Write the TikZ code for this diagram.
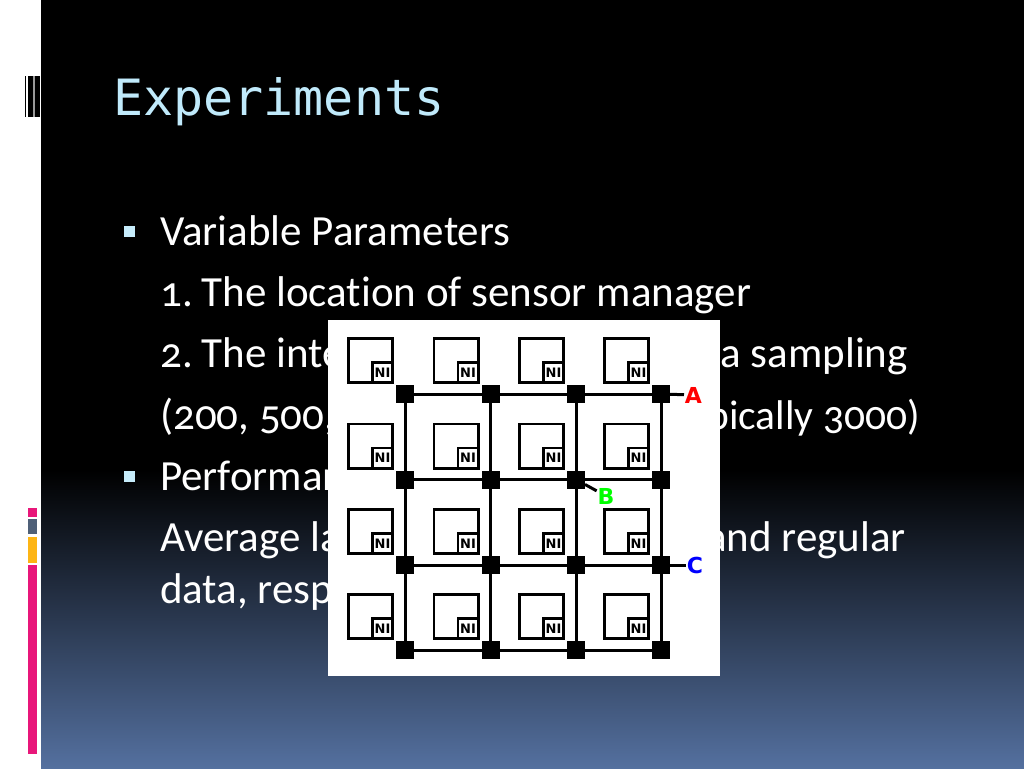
\documentclass[tikz,border=0pt]{standalone}
\usepackage{fontspec}
\setmainfont[Numbers=OldStyle,Ligatures=NoCommon]{Carlito}
\setsansfont{DejaVu Sans}
\newfontfamily\titlefont{DejaVu Sans Mono}
\definecolor{titleblue}{HTML}{C0EAFB}
\definecolor{slidebottom}{HTML}{54709F}
\definecolor{barpink}{HTML}{E8177A}
\definecolor{barslate}{HTML}{4F6078}
\definecolor{baramber}{HTML}{FDB515}
\tikzset{
  bodytext/.style={anchor=base west,text=white,inner sep=0pt,font=\fontsize{43}{50}\selectfont},
  bodyright/.style={bodytext,anchor=base east},
  bullet/.style={fill=titleblue!90!white,draw=none,minimum size=11pt,inner sep=0pt,outer sep=0pt},
  core/.style={draw=black,line width=2.8pt,fill=white,minimum size=44.2pt,inner sep=0pt,outer sep=0pt},
  netif/.style={core,minimum size=20.2pt,anchor=south east,font=\sffamily\bfseries\fontsize{13}{13}\selectfont},
  router/.style={fill=black,minimum size=18pt,inner sep=0pt,outer sep=0pt},
  link/.style={draw=black,line width=3pt},
  tag/.style={font=\sffamily\bfseries\fontsize{22}{22}\selectfont,inner sep=0pt,outer sep=1pt},
}
\begin{document}
\begin{tikzpicture}[x=1pt,y=-1pt]
\useasboundingbox (0,0) rectangle (1024,768);
% slide background
\fill[white] (0,0) rectangle (41,768);
\fill[black] (41,0) rectangle (1024,470);
\shade[top color=black,bottom color=slidebottom] (41,470) rectangle (1024,768);
% side marks
\fill[black] (25,76) rectangle (26,117);
\fill[black] (28,76) rectangle (29.5,117);
\fill[black] (30,76) rectangle (33.3,117);
\fill[black!40] (33.3,76) rectangle (35,117);
\fill[black] (35,76) rectangle (40,117);
\fill[barpink] (28,508) rectangle (37,517);
\fill[barslate] (28,519) rectangle (37,534);
\fill[baramber] (28,537) rectangle (37,563);
\fill[barpink] (28,565) rectangle (37,754);
% text
\node[anchor=base west,inner sep=0pt,text=titleblue,font=\titlefont\fontsize{50}{50}\selectfont] (title) at (113,115) {Experiments};
\node[bullet] (bulleta) at (129.5,231) {};
\node[bullet] (bulletb) at (129.5,476) {};
\node[bodytext] (vars) at (160,245) {Variable Parameters};
\node[bodytext] (one) at (160,306) {1.\hspace{-4pt} The location of sensor manager};
\node[bodytext] (two) at (160,367) {2.\hspace{-4pt} The inte};
\node[bodyright] (twor) at (908,367) {a sampling};
\node[bodytext] (three) at (160,429) {(200, 500,};
\node[bodyright,font=\fontsize{41.5}{50}\selectfont] (threer) at (920,429) {pically 3000)};
\node[bodytext] (perf) at (160,490) {Performan};
\node[bodytext] (avg) at (160,551) {Average la};
\node[bodyright] (avgr) at (906,551) {and regular};
\node[bodytext] (data) at (160,603) {data, resp};
% network picture
\fill[white] (328,320) rectangle (720,676);
\foreach \i/\x in {1/405,2/490.5,3/576,4/661} {
    \foreach \j/\y in {1/394,2/479.5,3/565,4/650} {
        \node[router] (r\i\j) at (\x,\y) {};
        \node[core] (c\i\j) at (\x-34.5,\y-33.5) {};
        \node[netif] (n\i\j) at (c\i\j.south east) {NI};
    }
}
\foreach \a/\b in {1/2,2/3,3/4} {
    \foreach \k in {1,2,3,4} {
        \draw[link] (r\a\k) -- (r\b\k);
        \draw[link] (r\k\a) -- (r\k\b);
    }
}
\node[tag,text=red] (taga) at (693.5,395) {A};
\node[tag,text=green] (tagb) at (606,496) {B};
\node[tag,text=blue] (tagc) at (695,565) {C};
\draw[link] (r41) -- (taga);
\draw[link] (r32) -- (tagb);
\draw[link] (r43) -- (tagc);
\end{tikzpicture}
\end{document}
